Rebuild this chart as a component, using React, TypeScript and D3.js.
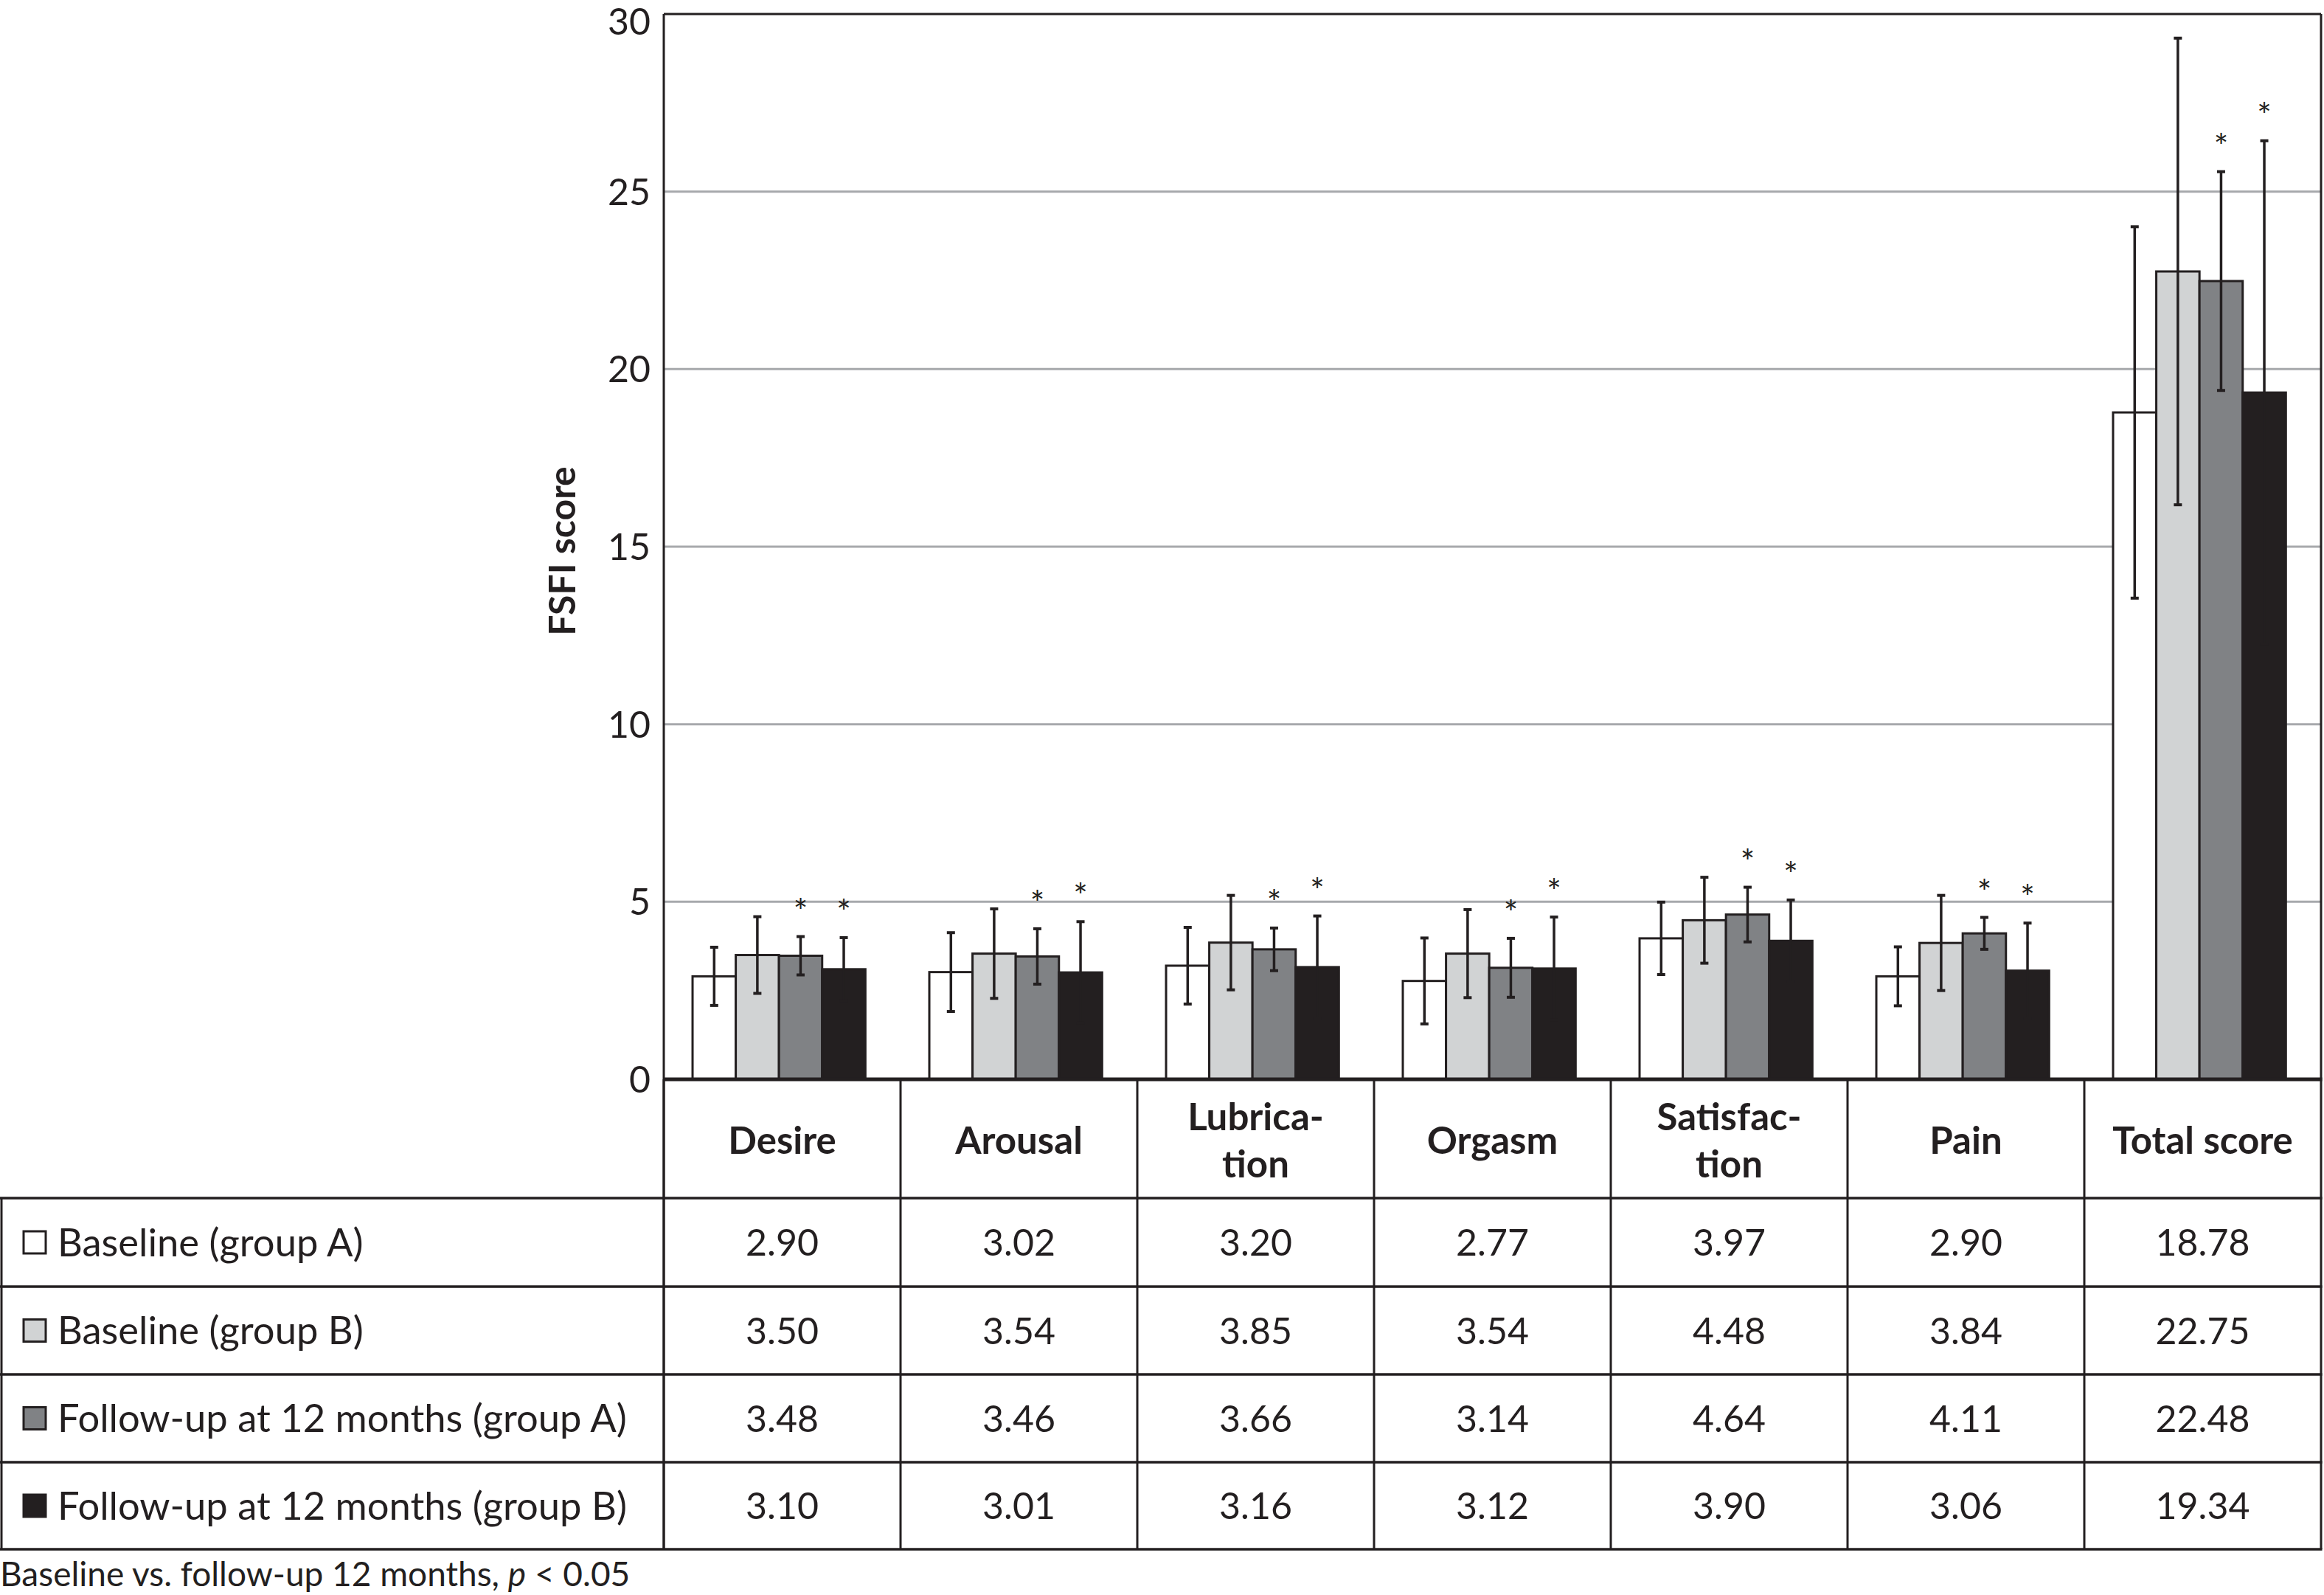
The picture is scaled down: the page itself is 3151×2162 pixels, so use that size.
import React from "react";
import * as d3 from "d3";

const categories = ["Desire", "Arousal", "Lubrication", "Orgasm", "Satisfaction", "Pain", "Total score"];
const headerLines = [["Desire"], ["Arousal"], ["Lubrica-", "tion"], ["Orgasm"], ["Satisfac-", "tion"], ["Pain"], ["Total score"]];
const seriesNames = ["Baseline (group A)", "Baseline (group B)", "Follow-up at 12 months (group A)", "Follow-up at 12 months (group B)"];
const seriesColors = ["#ffffff", "#d1d3d4", "#808285", "#231f20"];

const baselineA = [2.90, 3.02, 3.20, 2.77, 3.97, 2.90, 18.78];
const baselineB = [3.50, 3.54, 3.85, 3.54, 4.48, 3.84, 22.75];
const followA = [3.48, 3.46, 3.66, 3.14, 4.64, 4.11, 22.48];
const followB = [3.10, 3.01, 3.16, 3.12, 3.90, 3.06, 19.34];

const sdBaselineA = [0.82, 1.11, 1.08, 1.21, 1.02, 0.83, 5.23];
const sdBaselineB = [1.08, 1.26, 1.33, 1.24, 1.21, 1.34, 6.57];
const sdFollowA = [0.54, 0.78, 0.60, 0.83, 0.77, 0.45, 3.08];
const sdFollowB = [0.89, 1.43, 1.44, 1.45, 1.15, 1.34, 7.09];

const significant = [false, false, true, true];
const yTicks = [0, 5, 10, 15, 20, 25, 30];

const means = [baselineA, baselineB, followA, followB];
const sds = [sdBaselineA, sdBaselineB, sdFollowA, sdFollowB];

const W = 3151;
const H = 2162;
const plotLeft = 900;
const plotRight = 3147;
const plotTop = 19;
const zeroY = 1463;
const rowLines = [1624, 1744, 1863, 1982, 2100];
const ink = "#231f20";
const FONT = "Lato, 'Open Sans', sans-serif";

export default function App() {
  const y = d3.scaleLinear().domain([0, 30]).range([zeroY, plotTop]);
  const x0 = d3.scaleBand().domain(categories).range([plotLeft, plotRight]);
  const x1 = d3
    .scaleBand()
    .domain(seriesNames)
    .range([0, x0.bandwidth()])
    .paddingOuter(0.74)
    .align(0.45);
  const bw = x1.bandwidth();
  const fmt = d3.format(".2f");
  const cap = 11;

  return (
    <svg width={W} height={H} style={{ position: "absolute", left: 0, top: 0, background: "#fff" }} fontFamily={FONT}>
      <rect x={0} y={0} width={W} height={H} fill="#fff" />
      {/* grid lines */}
      {yTicks.filter((t) => t > 0 && t < 30).map((t) => (
        <line key={"g" + t} x1={plotLeft} x2={plotRight} y1={y(t)} y2={y(t)} stroke="#a7a9ac" strokeWidth={3} />
      ))}
      {/* frame */}
      <line x1={plotLeft} x2={plotRight} y1={y(30)} y2={y(30)} stroke={ink} strokeWidth={3} />
      <line x1={plotLeft} x2={plotLeft} y1={y(30)} y2={rowLines[4]} stroke={ink} strokeWidth={3} />
      <line x1={plotRight} x2={plotRight} y1={y(30)} y2={rowLines[4]} stroke={ink} strokeWidth={3} />
      {/* y tick labels */}
      {yTicks.map((t) => (
        <text key={"t" + t} x={882} y={Math.max(y(t), 29)} dy="0.36em" textAnchor="end" fontSize={50} fill={ink}>
          {t}
        </text>
      ))}
      <text
        transform={`translate(780, ${(y(30) + y(0)) / 2 + 6}) rotate(-90)`}
        textAnchor="middle"
        fontSize={50}
        fontWeight="bold"
        fill={ink}
      >
        FSFI score
      </text>
      {/* bars */}
      {categories.map((c, ci) => (
        <g key={c}>
          {seriesNames.map((s, si) => {
            const v = means[si][ci];
            const bx = (x0(c) as number) + (x1(s) as number);
            return (
              <rect
                key={s}
                x={bx}
                y={y(v)}
                width={bw}
                height={y(0) - y(v)}
                fill={seriesColors[si]}
                stroke={ink}
                strokeWidth={3}
              />
            );
          })}
          {seriesNames.map((s, si) => {
            const v = means[si][ci];
            const sd = sds[si][ci];
            const cx = (x0(c) as number) + (x1(s) as number) + bw / 2;
            const top = y(v + sd);
            const bot = y(v - sd);
            return (
              <g key={"e" + s} stroke={ink} strokeWidth={3.5}>
                <line x1={cx} x2={cx} y1={top} y2={bot} />
                <line x1={cx - cap / 2} x2={cx + cap / 2} y1={top} y2={top} strokeWidth={4} />
                <line x1={cx - cap / 2} x2={cx + cap / 2} y1={bot} y2={bot} strokeWidth={4} />
                {significant[si] && (
                  <text x={cx} y={top - 18} textAnchor="middle" fontSize={46} fill={ink} stroke="none">
                    *
                  </text>
                )}
              </g>
            );
          })}
        </g>
      ))}
      {/* x axis / table top */}
      <line x1={plotLeft} x2={plotRight + 1.5} y1={zeroY} y2={zeroY} stroke={ink} strokeWidth={5} />
      {/* table verticals */}
      {categories.map((c) => (
        <line key={"v" + c} x1={x0(c) as number} x2={x0(c) as number} y1={zeroY} y2={rowLines[4]} stroke={ink} strokeWidth={3} />
      ))}
      <line x1={2} x2={2} y1={rowLines[0]} y2={rowLines[4]} stroke={ink} strokeWidth={3} />
      {rowLines.map((ry) => (
        <line key={"h" + ry} x1={0} x2={plotRight + 1.5} y1={ry} y2={ry} stroke={ink} strokeWidth={3.5} />
      ))}
      {/* header labels */}
      {categories.map((c, ci) => {
        const cx = (x0(c) as number) + x0.bandwidth() / 2;
        const lines = headerLines[ci];
        const mid = (zeroY + rowLines[0]) / 2;
        const lh = 64;
        return (
          <text key={"hd" + c} x={cx} textAnchor="middle" fontSize={51} fontWeight="bold" fill={ink}>
            {lines.map((l, li) => (
              <tspan key={li} x={cx} y={mid + (li - (lines.length - 1) / 2) * lh + 2} dy="0.36em">
                {l}
              </tspan>
            ))}
          </text>
        );
      })}
      {/* rows */}
      {seriesNames.map((s, si) => {
        const cy = (rowLines[si] + rowLines[si + 1]) / 2;
        return (
          <g key={"r" + s}>
            <rect x={32} y={cy - 15} width={30} height={30} fill={seriesColors[si]} stroke={ink} strokeWidth={3} />
            <text x={78} y={cy} dy="0.36em" fontSize={52.5} fill={ink}>
              {s}
            </text>
            {categories.map((c, ci) => (
              <text
                key={c}
                x={(x0(c) as number) + x0.bandwidth() / 2}
                y={cy}
                dy="0.36em"
                textAnchor="middle"
                fontSize={50}
                fill={ink}
              >
                {fmt(means[si][ci])}
              </text>
            ))}
          </g>
        );
      })}
      <text x={0} y={2150} fontSize={46} fill={ink}>
        Baseline vs. follow-up 12 months, <tspan fontStyle="italic">p</tspan> {"< 0.05"}
      </text>
    </svg>
  );
}
